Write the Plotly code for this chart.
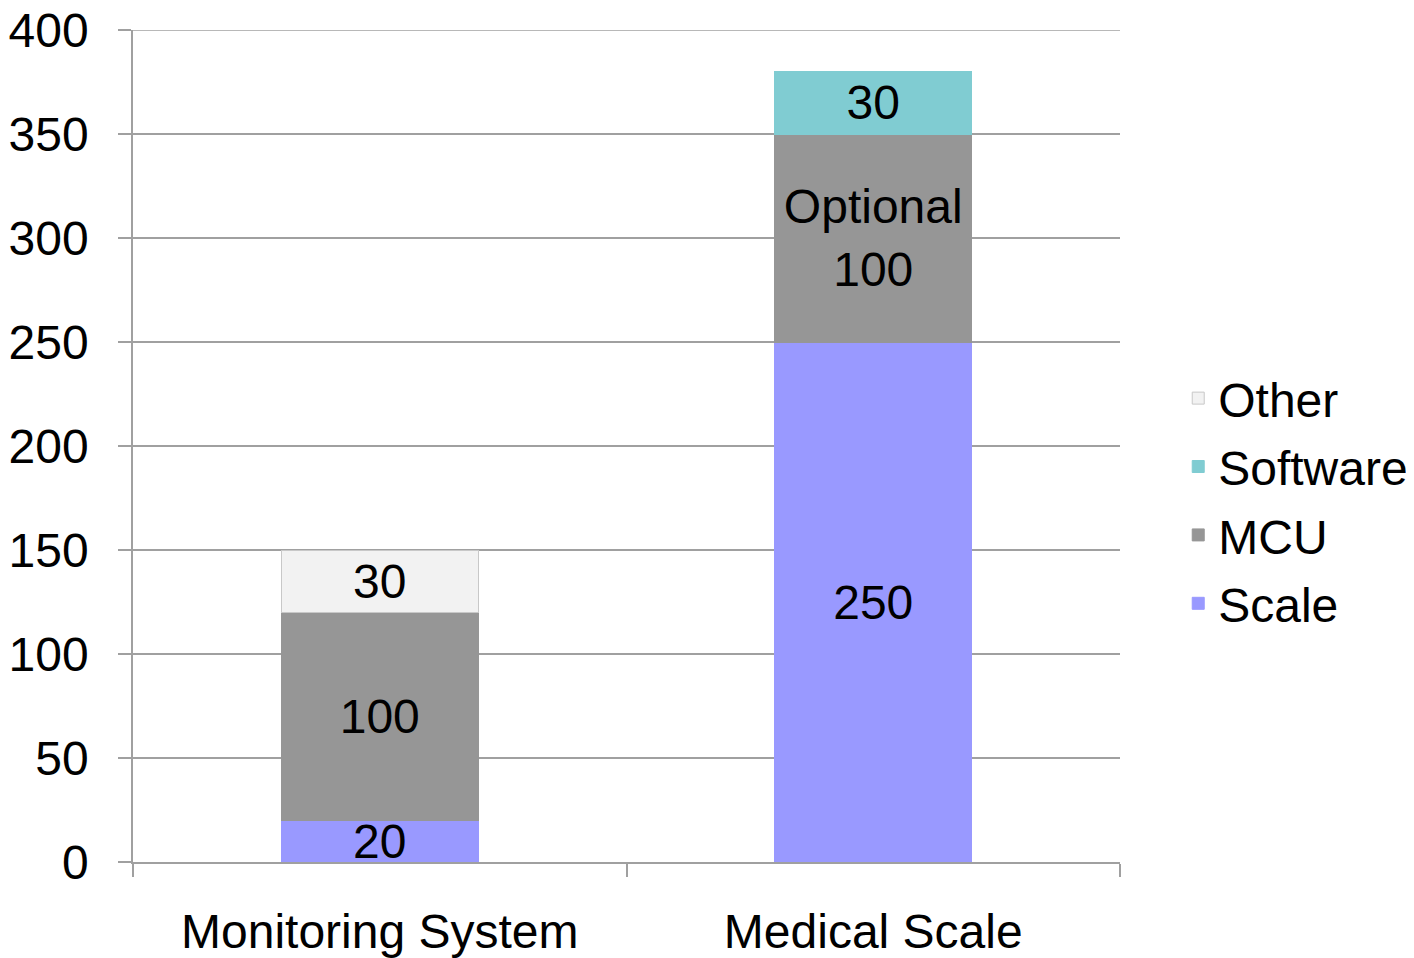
import plotly.graph_objects as go

categories = ["Monitoring System", "Medical Scale"]
scale_vals = [20, 250]
mcu_vals = [100, 100]
software_vals = [None, 30]
other_vals = [30, None]

scale_text = ["20", "250"]
mcu_text = ["100", "Optional<br>100"]
software_text = ["", "30"]
other_text = ["30", ""]

y_ticks = [0, 50, 100, 150, 200, 250, 300, 350, 400]
y_max = 400

FONT = "Liberation Sans, Arial, sans-serif"
FS = 48
GRID = "#A0A0A0"

# name, values, labels, fill, outline, legend rank
series = [
    ("Scale", scale_vals, scale_text, "#9999FF", "#9999FF", 4),
    ("MCU", mcu_vals, mcu_text, "#969696", "#969696", 3),
    ("Software", software_vals, software_text, "#80CCD2", "#80CCD2", 2),
    ("Other", other_vals, other_text, "#F2F2F2", "#C8C8C8", 1),
]

fig = go.Figure()
for name, vals, txt, col, lcol, rank in series:
    fig.add_trace(go.Bar(
        name=name, x=categories, y=vals, text=txt,
        texttemplate="%{text}",
        textposition="inside", insidetextanchor="middle",
        constraintext="none", textangle=0,
        textfont=dict(family=FONT, size=FS, color="black"),
        marker=dict(color=col, line=dict(color=lcol, width=1)),
        legendgroup=name, legendrank=rank,
    ))

# top gridline (plotly drops the grid line on the range edge)
fig.add_shape(type="line", xref="paper", yref="y", x0=0, x1=1, y0=y_max, y1=y_max,
              line=dict(color=GRID, width=1.5), layer="below")

fig.update_layout(
    width=1406, height=950,
    barmode="stack", bargap=0.6,
    paper_bgcolor="white", plot_bgcolor="white",
    margin=dict(l=125, r=294, t=22, b=96, autoexpand=False),
    font=dict(family=FONT, size=FS, color="black"),
    legend=dict(
        traceorder="grouped", x=1.059, xanchor="left",
        y=0.434, yanchor="middle",
        font=dict(family=FONT, size=FS, color="black"),
        tracegroupgap=3,
    ),
    showlegend=True,
)
fig.update_yaxes(
    range=[0, y_max], tickvals=y_ticks, automargin=False,
    ticklabeloverflow="allow",
    showgrid=True, gridcolor=GRID, gridwidth=1.5,
    showline=True, linecolor=GRID, linewidth=1.5,
    ticks="outside", ticklen=13, tickcolor=GRID, tickwidth=1.5,
    ticklabelstandoff=20, zeroline=False,
    tickfont=dict(family=FONT, size=FS, color="black"),
)
fig.update_xaxes(
    automargin=False, ticklabeloverflow="allow",
    showline=True, linecolor=GRID, linewidth=1.5,
    ticks="outside", ticklen=13, tickcolor=GRID, tickwidth=1.5,
    tickson="boundaries", ticklabelstandoff=27,
    tickfont=dict(family=FONT, size=FS, color="black"),
)

fig.write_html("out.html")
